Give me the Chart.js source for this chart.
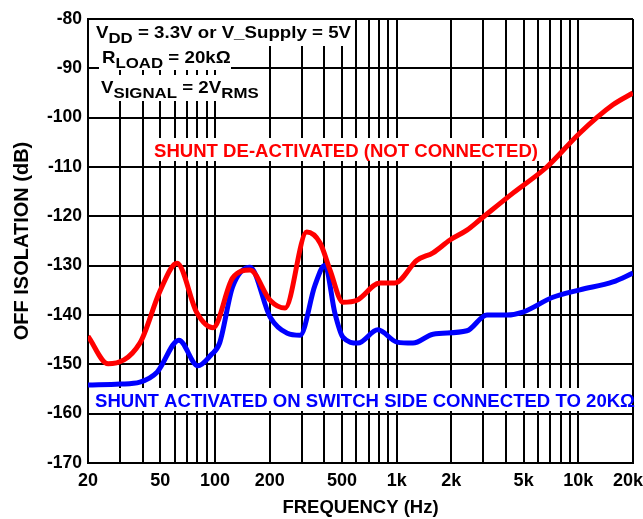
<!DOCTYPE html>
<html>
<head>
<meta charset="utf-8">
<script src="https://cdn.jsdelivr.net/npm/chart.js@4.4.1/dist/chart.umd.min.js"></script>
<style>
  html, body { margin: 0; padding: 0; background: #fff; }
  #wrap { width: 643px; height: 519px; }
</style>
</head>
<body>
<div id="wrap"><canvas id="chart" width="643" height="519"></canvas></div>
<script>
// frequency axis (Hz) and off isolation values (dB)
const redFreq = [20, 25.8, 38.6, 50, 61.8, 79.6, 97.5, 125, 156, 201, 243, 320, 379, 430, 506, 604, 809, 979, 1294, 1585, 1965, 2437, 2870, 4365, 6710, 10200, 15500, 20000];
const redDb = [-144.3, -149.9, -145.7, -135, -129.5, -139.6, -142.6, -132.5, -130.9, -137, -138.6, -123.2, -125.4, -130.9, -137.4, -137, -133.5, -133.5, -128.9, -127.4, -124.8, -122.8, -120.7, -115.3, -110.0, -103.1, -97.4, -95];

const blueFreq = [20, 30, 38.6, 48, 63.3, 80.5, 95, 106, 125, 156, 201, 250, 294, 355, 403, 457, 506, 612, 788, 1004, 1230, 1585, 2437, 3140, 4045, 4955, 7245, 10200, 15500, 20000];
const blueDb = [-154.2, -154.0, -153.6, -151.6, -145.1, -150.3, -148.1, -145.7, -134.3, -130.3, -140.4, -143.7, -144.1, -134, -129.9, -139.6, -144.5, -145.7, -143.0, -145.5, -145.7, -143.9, -143.2, -140.0, -140.0, -139.4, -136.4, -134.9, -133.3, -131.5];

const gridFreqs = [20, 30, 40, 50, 60, 70, 80, 90, 100, 200, 300, 400, 500, 600, 700, 800, 900,
  1000, 2000, 3000, 4000, 5000, 6000, 7000, 8000, 9000, 10000, 20000];
const freqLabels = { 20: '20', 50: '50', 100: '100', 200: '200', 500: '500', 1000: '1k', 2000: '2k', 5000: '5k', 10000: '10k', 20000: '20k  ' };

const FONT = '"Liberation Sans", Arial, sans-serif';

function toPoints(xs, ys) {
  return xs.map((x, i) => ({ x: x, y: ys[i] }));
}

// draws a line of text with optional subscript parts, stretched horizontally
function drawRich(ctx, x, y, parts, size, stretch) {
  ctx.save();
  ctx.translate(x, y);
  ctx.scale(stretch, 1);
  ctx.fillStyle = '#000';
  ctx.textBaseline = 'alphabetic';
  ctx.textAlign = 'left';
  let cx = 0;
  parts.forEach(p => {
    const s = p.sub ? size * 0.9 : size;
    ctx.font = 'bold ' + s + 'px ' + FONT;
    ctx.fillText(p.t, cx, p.sub ? 5 : 0);
    cx += ctx.measureText(p.t).width;
  });
  ctx.restore();
}

const notes = {
  id: 'notes',
  beforeDatasetsDraw(chart) {
    const ctx = chart.ctx;
    ctx.save();
    ctx.fillStyle = '#fff';
    ctx.fillRect(90, 20, 262, 26);
    ctx.fillRect(99, 46, 132, 24);
    ctx.fillRect(99, 75, 162, 26);
    ctx.fillRect(149, 138, 393, 23);
    ctx.fillRect(90, 388, 542, 23);

    drawRich(ctx, 96, 38, [{ t: 'V' }, { t: 'DD', sub: true }, { t: ' = 3.3V or V_Supply = 5V' }], 17, 1.1);
    drawRich(ctx, 102, 63, [{ t: 'R' }, { t: 'LOAD', sub: true }, { t: ' = 20kΩ' }], 17, 1.1);
    drawRich(ctx, 101, 93, [{ t: 'V' }, { t: 'SIGNAL', sub: true }, { t: ' = 2V' }, { t: 'RMS', sub: true }], 17, 1.1);

    ctx.font = 'bold 18.6px ' + FONT;
    ctx.textAlign = 'left';
    ctx.textBaseline = 'alphabetic';
    ctx.fillStyle = '#ff0000';
    ctx.fillText('SHUNT DE-ACTIVATED (NOT CONNECTED)', 154, 157, 384);
    ctx.fillStyle = '#0000ff';
    ctx.fillText('SHUNT ACTIVATED ON SWITCH SIDE CONNECTED TO 20KΩ', 95, 407, 540);
    ctx.restore();
  }
};

new Chart(document.getElementById('chart'), {
  type: 'line',
  data: {
    datasets: [
      {
        label: 'Shunt de-activated',
        data: toPoints(redFreq, redDb),
        borderColor: '#ff0000',
        borderWidth: 5,
        pointRadius: 0,
        cubicInterpolationMode: 'monotone'
      },
      {
        label: 'Shunt activated',
        data: toPoints(blueFreq, blueDb),
        borderColor: '#0000ff',
        borderWidth: 5,
        pointRadius: 0,
        cubicInterpolationMode: 'monotone'
      }
    ]
  },
  options: {
    responsive: false,
    animation: false,
    layout: { padding: { top: 19, right: 10, left: 0, bottom: 0 } },
    plugins: {
      legend: { display: false },
      tooltip: { enabled: false }
    },
    scales: {
      x: {
        type: 'logarithmic',
        min: 20,
        max: 20000,
        afterBuildTicks: scale => { scale.ticks = gridFreqs.map(v => ({ value: v })); },
        afterFit: scale => { scale.height = 56; scale.paddingLeft = 0; scale.paddingRight = 0; },
        grid: { color: '#000', lineWidth: 2, drawTicks: false },
        border: { color: '#000', width: 2 },
        ticks: {
          autoSkip: false,
          maxRotation: 0,
          padding: 7,
          color: '#000',
          font: { family: FONT, size: 18, weight: 'bold' },
          callback: v => freqLabels[v] || ''
        },
        title: {
          display: true,
          text: 'FREQUENCY (Hz)',
          color: '#000',
          font: { family: FONT, size: 18.5, weight: 'bold' },
          padding: { top: 0, bottom: 0 }
        }
      },
      y: {
        min: -170,
        max: -80,
        afterFit: scale => { scale.width = 88; },
        grid: { color: '#000', lineWidth: 2, drawTicks: false },
        border: { color: '#000', width: 2 },
        ticks: {
          stepSize: 10,
          padding: 6,
          color: '#000',
          font: { family: FONT, size: 17.5, weight: 'bold' }
        },
        title: {
          display: true,
          text: 'OFF ISOLATION (dB)',
          color: '#000',
          font: { family: FONT, size: 20, weight: 'bold' },
          padding: { top: 10, bottom: 0 }
        }
      }
    }
  },
  plugins: [notes]
});
</script>
</body>
</html>
